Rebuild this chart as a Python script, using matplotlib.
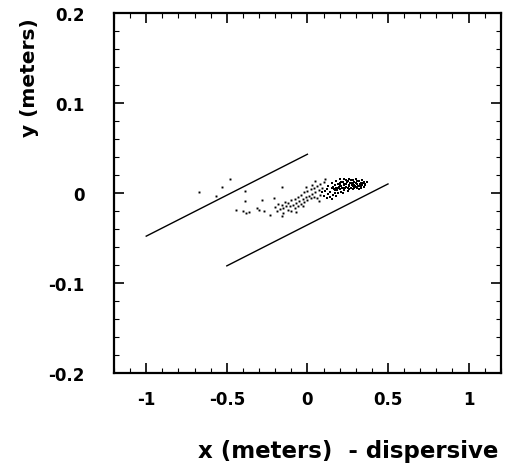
import matplotlib.pyplot as plt
from matplotlib.ticker import MultipleLocator, FuncFormatter

# sparse points on the left of the band
outlier_x = [-0.67, -0.57, -0.53, -0.48, -0.39, -0.385, -0.40, -0.38, -0.31, -0.30,
             -0.28, -0.23, -0.21, -0.16, -0.16, -0.36, -0.44, -0.27]
outlier_y = [0.001, -0.003, 0.007, 0.015, 0.002, -0.009, -0.020, -0.022, -0.017, -0.019,
             -0.008, -0.024, -0.006, 0.007, -0.026, -0.021, -0.019, -0.020]

# middle part of the band
band_x = [-0.20, -0.19, -0.18, -0.17, -0.16, -0.15, -0.15, -0.14, -0.13, -0.12,
          -0.12, -0.11, -0.10, -0.10, -0.09, -0.08, -0.08, -0.07, -0.06, -0.06,
          -0.05, -0.04, -0.04, -0.03, -0.02, -0.02, -0.01, 0.00, 0.00, 0.01,
          0.02, 0.02, 0.03, 0.04, 0.04, 0.05, 0.06, 0.06, 0.07, 0.08,
          0.08, 0.09, 0.10, 0.07, 0.03, -0.01, 0.05, -0.03, -0.07, 0.11]
band_y = [-0.016, -0.020, -0.012, -0.018, -0.013, -0.022, -0.017, -0.010, -0.015, -0.019,
          -0.011, -0.014, -0.020, -0.008, -0.013, -0.017, -0.007, -0.011, -0.014, -0.004,
          -0.009, -0.012, -0.002, -0.007, -0.010, 0.001, -0.005, -0.008, 0.002, -0.003,
          -0.006, 0.004, -0.001, -0.004, 0.006, 0.001, -0.006, 0.008, 0.003, -0.002,
          0.010, 0.005, 0.012, -0.009, 0.009, 0.007, 0.013, -0.015, -0.021, 0.015]

# dense core on the right
core_x = [0.12, 0.13, 0.14, 0.15, 0.15, 0.16, 0.17, 0.17, 0.18, 0.18,
          0.19, 0.19, 0.20, 0.20, 0.21, 0.21, 0.22, 0.22, 0.23, 0.23,
          0.24, 0.24, 0.25, 0.25, 0.26, 0.26, 0.27, 0.27, 0.28, 0.28,
          0.29, 0.29, 0.30, 0.30, 0.31, 0.31, 0.32, 0.32, 0.33, 0.33,
          0.34, 0.34, 0.35, 0.35, 0.36, 0.37, 0.14, 0.16, 0.18, 0.20,
          0.22, 0.24, 0.26, 0.28, 0.30, 0.32, 0.19, 0.21, 0.23, 0.25,
          0.27, 0.29, 0.31, 0.17, 0.13, 0.11, 0.10, 0.12, 0.09, 0.15,
          0.215, 0.225, 0.235, 0.245, 0.255, 0.265, 0.275, 0.285, 0.295, 0.305,
          0.315, 0.325, 0.205, 0.195, 0.185, 0.165, 0.335, 0.345, 0.355, 0.175]
core_y = [0.004, 0.008, 0.001, 0.011, 0.005, -0.002, 0.009, 0.003, 0.013, 0.006,
          0.000, 0.010, 0.004, 0.015, 0.008, 0.001, 0.012, 0.006, 0.016, 0.003,
          0.010, 0.007, 0.013, 0.002, 0.009, 0.015, 0.006, 0.011, 0.014, 0.004,
          0.009, 0.012, 0.007, 0.016, 0.010, 0.005, 0.013, 0.008, 0.011, 0.006,
          0.014, 0.009, 0.012, 0.007, 0.010, 0.012, -0.004, 0.007, -0.003, 0.009,
          0.000, 0.014, 0.004, 0.008, 0.011, 0.004, 0.005, 0.012, 0.009, 0.006,
          0.014, 0.005, 0.013, 0.000, -0.001, 0.002, -0.003, -0.006, 0.001, -0.007,
          0.006, 0.010, 0.005, 0.012, 0.008, 0.011, 0.009, 0.011, 0.008, 0.013,
          0.008, 0.010, 0.011, 0.007, 0.003, 0.004, 0.008, 0.011, 0.009, 0.006]

# acceptance boundary lines (endpoints)
upper_x = [-1.0, 0.0]
upper_y = [-0.048, 0.043]
lower_x = [-0.5, 0.5]
lower_y = [-0.081, 0.010]

plt.rcParams['font.family'] = ['DejaVu Sans']
plt.rcParams['font.weight'] = 'bold'

fig = plt.figure(figsize=(5.1, 4.64), dpi=100)
ax = fig.add_axes([0.2235, 0.194, 0.7585, 0.776])

ax.plot(outlier_x + band_x, outlier_y + band_y, 's', color='black', ms=1.4, mew=0)
ax.plot(core_x, core_y, 's', color='black', ms=2.0, mew=0)
ax.plot(upper_x, upper_y, color='black', lw=1.0)
ax.plot(lower_x, lower_y, color='black', lw=1.0)

ax.set_xlim(-1.2, 1.2)
ax.set_ylim(-0.2, 0.2)
ax.xaxis.set_major_locator(MultipleLocator(0.5))
ax.xaxis.set_minor_locator(MultipleLocator(0.1))
ax.yaxis.set_major_locator(MultipleLocator(0.1))
ax.yaxis.set_minor_locator(MultipleLocator(0.02))
ax.xaxis.set_major_formatter(FuncFormatter(lambda v, p: '%g' % round(v, 2)))
ax.yaxis.set_major_formatter(FuncFormatter(lambda v, p: '%g' % round(v, 2)))

ax.tick_params(which='both', direction='in', top=True, right=True, labelsize=12)
ax.tick_params(which='major', length=7, width=1.2)
ax.tick_params(which='minor', length=3.5, width=0.8)
ax.tick_params(axis='x', pad=12)
ax.tick_params(axis='y', pad=21)
for s in ax.spines.values():
    s.set_linewidth(1.6)

fig.text(348 / 510, 1 - 452 / 464, 'x (meters)  - dispersive', ha='center', va='center',
         fontsize=16.5, fontweight='bold')
fig.text(30 / 510, 1 - 78 / 464, 'y (meters)', ha='center', va='center',
         rotation=90, fontsize=14.5, fontweight='bold')

fig.savefig('out.png', dpi=100)
